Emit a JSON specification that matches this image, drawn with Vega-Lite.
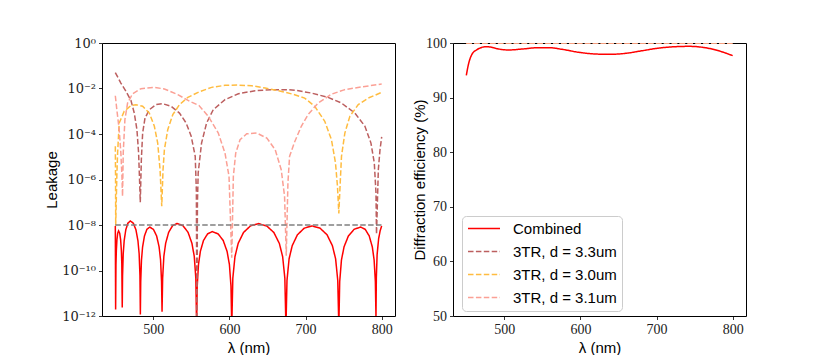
{
  "$schema": "https://vega.github.io/schema/vega-lite/v6.json",
  "padding": {"left": 44, "top": 35, "right": 5, "bottom": 2},
  "spacing": 58,
  "bounds": "flush",
  "datasets": {
    "leak": [
      {"wavelength": 450, "leakage": 9.12e-9, "series": "Combined"},
      {"wavelength": 450.4, "leakage": 1.95e-12, "series": "Combined"},
      {"wavelength": 450.87, "leakage": 1.95e-10, "series": "Combined"},
      {"wavelength": 451.34, "leakage": 7.41e-10, "series": "Combined"},
      {"wavelength": 452.12, "leakage": 2.24e-9, "series": "Combined"},
      {"wavelength": 453.13, "leakage": 4.37e-9, "series": "Combined"},
      {"wavelength": 454.3, "leakage": 5.5e-9, "series": "Combined"},
      {"wavelength": 455.74, "leakage": 4.37e-9, "series": "Combined"},
      {"wavelength": 456.99, "leakage": 2.24e-9, "series": "Combined"},
      {"wavelength": 457.95, "leakage": 7.41e-10, "series": "Combined"},
      {"wavelength": 458.52, "leakage": 1.95e-10, "series": "Combined"},
      {"wavelength": 459.1, "leakage": 2.34e-12, "series": "Combined"},
      {"wavelength": 459.52, "leakage": 6.03e-11, "series": "Combined"},
      {"wavelength": 460.37, "leakage": 5.37e-10, "series": "Combined"},
      {"wavelength": 461.64, "leakage": 2.04e-9, "series": "Combined"},
      {"wavelength": 463.76, "leakage": 6.17e-9, "series": "Combined"},
      {"wavelength": 466.52, "leakage": 1.2e-8, "series": "Combined"},
      {"wavelength": 469.7, "leakage": 1.51e-8, "series": "Combined"},
      {"wavelength": 473.66, "leakage": 1.2e-8, "series": "Combined"},
      {"wavelength": 477.09, "leakage": 6.17e-9, "series": "Combined"},
      {"wavelength": 479.73, "leakage": 2.04e-9, "series": "Combined"},
      {"wavelength": 481.32, "leakage": 5.37e-10, "series": "Combined"},
      {"wavelength": 482.37, "leakage": 6.03e-11, "series": "Combined"},
      {"wavelength": 482.9, "leakage": 1.17e-12, "series": "Combined"},
      {"wavelength": 483.39, "leakage": 3.24e-11, "series": "Combined"},
      {"wavelength": 484.38, "leakage": 2.88e-10, "series": "Combined"},
      {"wavelength": 485.85, "leakage": 1.1e-9, "series": "Combined"},
      {"wavelength": 488.31, "leakage": 3.31e-9, "series": "Combined"},
      {"wavelength": 491.51, "leakage": 6.46e-9, "series": "Combined"},
      {"wavelength": 495.2, "leakage": 8.13e-9, "series": "Combined"},
      {"wavelength": 500.06, "leakage": 6.46e-9, "series": "Combined"},
      {"wavelength": 504.27, "leakage": 3.31e-9, "series": "Combined"},
      {"wavelength": 507.51, "leakage": 1.1e-9, "series": "Combined"},
      {"wavelength": 509.46, "leakage": 2.88e-10, "series": "Combined"},
      {"wavelength": 510.75, "leakage": 3.24e-11, "series": "Combined"},
      {"wavelength": 511.4, "leakage": 1.55e-12, "series": "Combined"},
      {"wavelength": 512.19, "leakage": 4.68e-11, "series": "Combined"},
      {"wavelength": 513.78, "leakage": 4.17e-10, "series": "Combined"},
      {"wavelength": 516.15, "leakage": 1.58e-9, "series": "Combined"},
      {"wavelength": 520.11, "leakage": 4.79e-9, "series": "Combined"},
      {"wavelength": 525.26, "leakage": 9.33e-9, "series": "Combined"},
      {"wavelength": 531.2, "leakage": 1.17e-8, "series": "Combined"},
      {"wavelength": 538.88, "leakage": 9.33e-9, "series": "Combined"},
      {"wavelength": 545.54, "leakage": 4.79e-9, "series": "Combined"},
      {"wavelength": 550.66, "leakage": 1.58e-9, "series": "Combined"},
      {"wavelength": 553.73, "leakage": 4.17e-10, "series": "Combined"},
      {"wavelength": 555.78, "leakage": 4.68e-11, "series": "Combined"},
      {"wavelength": 556.8, "leakage": 3.16e-13, "series": "Combined"},
      {"wavelength": 557.62, "leakage": 2.04e-11, "series": "Combined"},
      {"wavelength": 559.27, "leakage": 1.82e-10, "series": "Combined"},
      {"wavelength": 561.74, "leakage": 6.92e-10, "series": "Combined"},
      {"wavelength": 565.86, "leakage": 2.09e-9, "series": "Combined"},
      {"wavelength": 571.22, "leakage": 4.07e-9, "series": "Combined"},
      {"wavelength": 577.4, "leakage": 5.13e-9, "series": "Combined"},
      {"wavelength": 585.08, "leakage": 4.07e-9, "series": "Combined"},
      {"wavelength": 591.74, "leakage": 2.09e-9, "series": "Combined"},
      {"wavelength": 596.86, "leakage": 6.92e-10, "series": "Combined"},
      {"wavelength": 599.93, "leakage": 1.82e-10, "series": "Combined"},
      {"wavelength": 601.98, "leakage": 2.04e-11, "series": "Combined"},
      {"wavelength": 603.0, "leakage": 3.16e-13, "series": "Combined"},
      {"wavelength": 604.4, "leakage": 4.57e-11, "series": "Combined"},
      {"wavelength": 607.21, "leakage": 4.07e-10, "series": "Combined"},
      {"wavelength": 611.42, "leakage": 1.55e-9, "series": "Combined"},
      {"wavelength": 618.44, "leakage": 4.68e-9, "series": "Combined"},
      {"wavelength": 627.57, "leakage": 9.12e-9, "series": "Combined"},
      {"wavelength": 638.1, "leakage": 1.15e-8, "series": "Combined"},
      {"wavelength": 648.93, "leakage": 9.12e-9, "series": "Combined"},
      {"wavelength": 658.32, "leakage": 4.68e-9, "series": "Combined"},
      {"wavelength": 665.54, "leakage": 1.55e-9, "series": "Combined"},
      {"wavelength": 669.87, "leakage": 4.07e-10, "series": "Combined"},
      {"wavelength": 672.76, "leakage": 4.57e-11, "series": "Combined"},
      {"wavelength": 674.2, "leakage": 3.16e-13, "series": "Combined"},
      {"wavelength": 675.57, "leakage": 3.63e-11, "series": "Combined"},
      {"wavelength": 678.32, "leakage": 3.24e-10, "series": "Combined"},
      {"wavelength": 682.43, "leakage": 1.23e-9, "series": "Combined"},
      {"wavelength": 689.29, "leakage": 3.72e-9, "series": "Combined"},
      {"wavelength": 698.21, "leakage": 7.24e-9, "series": "Combined"},
      {"wavelength": 708.5, "leakage": 9.12e-9, "series": "Combined"},
      {"wavelength": 719.06, "leakage": 7.24e-9, "series": "Combined"},
      {"wavelength": 728.21, "leakage": 3.72e-9, "series": "Combined"},
      {"wavelength": 735.25, "leakage": 1.23e-9, "series": "Combined"},
      {"wavelength": 739.48, "leakage": 3.24e-10, "series": "Combined"},
      {"wavelength": 742.29, "leakage": 3.63e-11, "series": "Combined"},
      {"wavelength": 743.7, "leakage": 3.16e-13, "series": "Combined"},
      {"wavelength": 744.84, "leakage": 3.24e-11, "series": "Combined"},
      {"wavelength": 747.13, "leakage": 2.88e-10, "series": "Combined"},
      {"wavelength": 750.56, "leakage": 1.1e-9, "series": "Combined"},
      {"wavelength": 756.28, "leakage": 3.31e-9, "series": "Combined"},
      {"wavelength": 763.72, "leakage": 6.46e-9, "series": "Combined"},
      {"wavelength": 772.3, "leakage": 8.13e-9, "series": "Combined"},
      {"wavelength": 778.36, "leakage": 6.46e-9, "series": "Combined"},
      {"wavelength": 783.61, "leakage": 3.31e-9, "series": "Combined"},
      {"wavelength": 787.65, "leakage": 1.1e-9, "series": "Combined"},
      {"wavelength": 790.08, "leakage": 2.88e-10, "series": "Combined"},
      {"wavelength": 791.69, "leakage": 3.24e-11, "series": "Combined"},
      {"wavelength": 792.5, "leakage": 8.51e-13, "series": "Combined"},
      {"wavelength": 793.0, "leakage": 5.01e-11, "series": "Combined"},
      {"wavelength": 794.0, "leakage": 5.01e-10, "series": "Combined"},
      {"wavelength": 796.0, "leakage": 2.51e-9, "series": "Combined"},
      {"wavelength": 798.0, "leakage": 5.62e-9, "series": "Combined"},
      {"wavelength": 800.0, "leakage": 9.12e-9, "series": "Combined"},

      {"wavelength": 450, "leakage": 5.01e-2, "series": "3TR, d = 3.3um"},
      {"wavelength": 457.3, "leakage": 1.74e-2, "series": "3TR, d = 3.3um"},
      {"wavelength": 463.9, "leakage": 7.59e-3, "series": "3TR, d = 3.3um"},
      {"wavelength": 470.5, "leakage": 3.02e-3, "series": "3TR, d = 3.3um"},
      {"wavelength": 474.9, "leakage": 8.32e-4, "series": "3TR, d = 3.3um"},
      {"wavelength": 478.4, "leakage": 1.55e-4, "series": "3TR, d = 3.3um"},
      {"wavelength": 480.6, "leakage": 1.45e-5, "series": "3TR, d = 3.3um"},
      {"wavelength": 482.0, "leakage": 7.08e-7, "series": "3TR, d = 3.3um"},
      {"wavelength": 482.8, "leakage": 1.0e-7, "series": "3TR, d = 3.3um"},
      {"wavelength": 484.2, "leakage": 7.41e-6, "series": "3TR, d = 3.3um"},
      {"wavelength": 485.9, "leakage": 1.1e-4, "series": "3TR, d = 3.3um"},
      {"wavelength": 489.0, "leakage": 5.01e-4, "series": "3TR, d = 3.3um"},
      {"wavelength": 494.7, "leakage": 1.17e-3, "series": "3TR, d = 3.3um"},
      {"wavelength": 503.5, "leakage": 1.95e-3, "series": "3TR, d = 3.3um"},
      {"wavelength": 512.3, "leakage": 2.14e-3, "series": "3TR, d = 3.3um"},
      {"wavelength": 523.3, "leakage": 1.66e-3, "series": "3TR, d = 3.3um"},
      {"wavelength": 534.3, "leakage": 8.32e-4, "series": "3TR, d = 3.3um"},
      {"wavelength": 543.1, "leakage": 3.02e-4, "series": "3TR, d = 3.3um"},
      {"wavelength": 549.7, "leakage": 7.94e-5, "series": "3TR, d = 3.3um"},
      {"wavelength": 555.0, "leakage": 1.05e-5, "series": "3TR, d = 3.3um"},
      {"wavelength": 556.5, "leakage": 3.16e-7, "series": "3TR, d = 3.3um"},
      {"wavelength": 557.2, "leakage": 3.16e-13, "series": "3TR, d = 3.3um"},
      {"wavelength": 557.9, "leakage": 1.0e-7, "series": "3TR, d = 3.3um"},
      {"wavelength": 558.9, "leakage": 1.95e-6, "series": "3TR, d = 3.3um"},
      {"wavelength": 563.3, "leakage": 3.98e-5, "series": "3TR, d = 3.3um"},
      {"wavelength": 569.9, "leakage": 3.02e-4, "series": "3TR, d = 3.3um"},
      {"wavelength": 578.7, "leakage": 1.17e-3, "series": "3TR, d = 3.3um"},
      {"wavelength": 594.1, "leakage": 3.24e-3, "series": "3TR, d = 3.3um"},
      {"wavelength": 611.7, "leakage": 5.89e-3, "series": "3TR, d = 3.3um"},
      {"wavelength": 633.7, "leakage": 7.94e-3, "series": "3TR, d = 3.3um"},
      {"wavelength": 655.7, "leakage": 8.91e-3, "series": "3TR, d = 3.3um"},
      {"wavelength": 677.7, "leakage": 8.91e-3, "series": "3TR, d = 3.3um"},
      {"wavelength": 690.9, "leakage": 7.94e-3, "series": "3TR, d = 3.3um"},
      {"wavelength": 707.6, "leakage": 6.31e-3, "series": "3TR, d = 3.3um"},
      {"wavelength": 729.6, "leakage": 4.07e-3, "series": "3TR, d = 3.3um"},
      {"wavelength": 747.2, "leakage": 2.29e-3, "series": "3TR, d = 3.3um"},
      {"wavelength": 764.8, "leakage": 8.32e-4, "series": "3TR, d = 3.3um"},
      {"wavelength": 778.0, "leakage": 2.19e-4, "series": "3TR, d = 3.3um"},
      {"wavelength": 785.9, "leakage": 3.98e-5, "series": "3TR, d = 3.3um"},
      {"wavelength": 790.3, "leakage": 5.37e-6, "series": "3TR, d = 3.3um"},
      {"wavelength": 792.5, "leakage": 2.57e-7, "series": "3TR, d = 3.3um"},
      {"wavelength": 793.2, "leakage": 3.98e-9, "series": "3TR, d = 3.3um"},
      {"wavelength": 795.6, "leakage": 2.69e-6, "series": "3TR, d = 3.3um"},
      {"wavelength": 797.8, "leakage": 2.04e-5, "series": "3TR, d = 3.3um"},
      {"wavelength": 800.0, "leakage": 7.41e-5, "series": "3TR, d = 3.3um"},

      {"wavelength": 450, "leakage": 2.88e-5, "series": "3TR, d = 3.0um"},
      {"wavelength": 450.3, "leakage": 1.38e-6, "series": "3TR, d = 3.0um"},
      {"wavelength": 450.5, "leakage": 9.33e-9, "series": "3TR, d = 3.0um"},
      {"wavelength": 452.0, "leakage": 1.38e-6, "series": "3TR, d = 3.0um"},
      {"wavelength": 453.0, "leakage": 1.45e-5, "series": "3TR, d = 3.0um"},
      {"wavelength": 455.1, "leakage": 3.02e-4, "series": "3TR, d = 3.0um"},
      {"wavelength": 461.7, "leakage": 1.0e-3, "series": "3TR, d = 3.0um"},
      {"wavelength": 470.5, "leakage": 1.78e-3, "series": "3TR, d = 3.0um"},
      {"wavelength": 477.1, "leakage": 1.95e-3, "series": "3TR, d = 3.0um"},
      {"wavelength": 485.9, "leakage": 1.66e-3, "series": "3TR, d = 3.0um"},
      {"wavelength": 494.7, "leakage": 8.32e-4, "series": "3TR, d = 3.0um"},
      {"wavelength": 501.3, "leakage": 2.19e-4, "series": "3TR, d = 3.0um"},
      {"wavelength": 505.7, "leakage": 3.98e-5, "series": "3TR, d = 3.0um"},
      {"wavelength": 508.8, "leakage": 2.69e-6, "series": "3TR, d = 3.0um"},
      {"wavelength": 511.0, "leakage": 6.61e-8, "series": "3TR, d = 3.0um"},
      {"wavelength": 512.7, "leakage": 2.69e-6, "series": "3TR, d = 3.0um"},
      {"wavelength": 514.5, "leakage": 2.04e-5, "series": "3TR, d = 3.0um"},
      {"wavelength": 518.9, "leakage": 1.55e-4, "series": "3TR, d = 3.0um"},
      {"wavelength": 525.5, "leakage": 7.08e-4, "series": "3TR, d = 3.0um"},
      {"wavelength": 534.3, "leakage": 1.95e-3, "series": "3TR, d = 3.0um"},
      {"wavelength": 545.3, "leakage": 4.07e-3, "series": "3TR, d = 3.0um"},
      {"wavelength": 560.0, "leakage": 7.08e-3, "series": "3TR, d = 3.0um"},
      {"wavelength": 576.5, "leakage": 1.12e-2, "series": "3TR, d = 3.0um"},
      {"wavelength": 594.1, "leakage": 1.38e-2, "series": "3TR, d = 3.0um"},
      {"wavelength": 611.7, "leakage": 1.41e-2, "series": "3TR, d = 3.0um"},
      {"wavelength": 629.3, "leakage": 1.32e-2, "series": "3TR, d = 3.0um"},
      {"wavelength": 646.9, "leakage": 1.05e-2, "series": "3TR, d = 3.0um"},
      {"wavelength": 664.5, "leakage": 7.94e-3, "series": "3TR, d = 3.0um"},
      {"wavelength": 682.1, "leakage": 5.75e-3, "series": "3TR, d = 3.0um"},
      {"wavelength": 698.8, "leakage": 3.8e-3, "series": "3TR, d = 3.0um"},
      {"wavelength": 712.0, "leakage": 1.66e-3, "series": "3TR, d = 3.0um"},
      {"wavelength": 725.2, "leakage": 3.63e-4, "series": "3TR, d = 3.0um"},
      {"wavelength": 734.0, "leakage": 5.62e-5, "series": "3TR, d = 3.0um"},
      {"wavelength": 739.3, "leakage": 5.37e-6, "series": "3TR, d = 3.0um"},
      {"wavelength": 741.9, "leakage": 5.01e-7, "series": "3TR, d = 3.0um"},
      {"wavelength": 743.7, "leakage": 3.24e-8, "series": "3TR, d = 3.0um"},
      {"wavelength": 745.5, "leakage": 7.08e-7, "series": "3TR, d = 3.0um"},
      {"wavelength": 747.2, "leakage": 1.05e-5, "series": "3TR, d = 3.0um"},
      {"wavelength": 751.6, "leakage": 1.1e-4, "series": "3TR, d = 3.0um"},
      {"wavelength": 758.2, "leakage": 6.03e-4, "series": "3TR, d = 3.0um"},
      {"wavelength": 769.2, "leakage": 1.95e-3, "series": "3TR, d = 3.0um"},
      {"wavelength": 782.4, "leakage": 3.8e-3, "series": "3TR, d = 3.0um"},
      {"wavelength": 800.0, "leakage": 6.76e-3, "series": "3TR, d = 3.0um"},

      {"wavelength": 450, "leakage": 4.79e-3, "series": "3TR, d = 3.1um"},
      {"wavelength": 452.0, "leakage": 1.17e-3, "series": "3TR, d = 3.1um"},
      {"wavelength": 455.1, "leakage": 1.55e-4, "series": "3TR, d = 3.1um"},
      {"wavelength": 457.3, "leakage": 1.45e-5, "series": "3TR, d = 3.1um"},
      {"wavelength": 458.7, "leakage": 1.38e-6, "series": "3TR, d = 3.1um"},
      {"wavelength": 459.5, "leakage": 1.82e-7, "series": "3TR, d = 3.1um"},
      {"wavelength": 460.4, "leakage": 1.45e-5, "series": "3TR, d = 3.1um"},
      {"wavelength": 462.6, "leakage": 4.27e-4, "series": "3TR, d = 3.1um"},
      {"wavelength": 466.1, "leakage": 2.29e-3, "series": "3TR, d = 3.1um"},
      {"wavelength": 472.7, "leakage": 5.89e-3, "series": "3TR, d = 3.1um"},
      {"wavelength": 483.7, "leakage": 9.77e-3, "series": "3TR, d = 3.1um"},
      {"wavelength": 501.3, "leakage": 1.12e-2, "series": "3TR, d = 3.1um"},
      {"wavelength": 514.5, "leakage": 9.55e-3, "series": "3TR, d = 3.1um"},
      {"wavelength": 532.1, "leakage": 5.37e-3, "series": "3TR, d = 3.1um"},
      {"wavelength": 547.5, "leakage": 2.75e-3, "series": "3TR, d = 3.1um"},
      {"wavelength": 560.0, "leakage": 1.78e-3, "series": "3TR, d = 3.1um"},
      {"wavelength": 572.1, "leakage": 6.03e-4, "series": "3TR, d = 3.1um"},
      {"wavelength": 585.3, "leakage": 1.1e-4, "series": "3TR, d = 3.1um"},
      {"wavelength": 594.1, "leakage": 1.45e-5, "series": "3TR, d = 3.1um"},
      {"wavelength": 599.4, "leakage": 1.38e-6, "series": "3TR, d = 3.1um"},
      {"wavelength": 603.0, "leakage": 3.63e-10, "series": "3TR, d = 3.1um"},
      {"wavelength": 605.1, "leakage": 1.38e-6, "series": "3TR, d = 3.1um"},
      {"wavelength": 608.2, "leakage": 1.45e-5, "series": "3TR, d = 3.1um"},
      {"wavelength": 613.9, "leakage": 5.62e-5, "series": "3TR, d = 3.1um"},
      {"wavelength": 622.7, "leakage": 1.02e-4, "series": "3TR, d = 3.1um"},
      {"wavelength": 635.9, "leakage": 1.1e-4, "series": "3TR, d = 3.1um"},
      {"wavelength": 649.1, "leakage": 6.61e-5, "series": "3TR, d = 3.1um"},
      {"wavelength": 660.1, "leakage": 2.04e-5, "series": "3TR, d = 3.1um"},
      {"wavelength": 668.0, "leakage": 2.69e-6, "series": "3TR, d = 3.1um"},
      {"wavelength": 672.4, "leakage": 1.82e-7, "series": "3TR, d = 3.1um"},
      {"wavelength": 674.6, "leakage": 4.47e-10, "series": "3TR, d = 3.1um"},
      {"wavelength": 676.8, "leakage": 7.08e-7, "series": "3TR, d = 3.1um"},
      {"wavelength": 679.0, "leakage": 1.05e-5, "series": "3TR, d = 3.1um"},
      {"wavelength": 685.6, "leakage": 4.47e-5, "series": "3TR, d = 3.1um"},
      {"wavelength": 694.4, "leakage": 2.19e-4, "series": "3TR, d = 3.1um"},
      {"wavelength": 703.2, "leakage": 7.08e-4, "series": "3TR, d = 3.1um"},
      {"wavelength": 716.4, "leakage": 2.29e-3, "series": "3TR, d = 3.1um"},
      {"wavelength": 734.0, "leakage": 5.62e-3, "series": "3TR, d = 3.1um"},
      {"wavelength": 751.6, "leakage": 8.91e-3, "series": "3TR, d = 3.1um"},
      {"wavelength": 773.6, "leakage": 1.17e-2, "series": "3TR, d = 3.1um"},
      {"wavelength": 800.0, "leakage": 1.58e-2, "series": "3TR, d = 3.1um"}
    ],
    "threshold": [
      {"wavelength": 450, "leakage": 1e-8},
      {"wavelength": 800, "leakage": 1e-8}
    ],
    "eff": [
      {"wavelength": 450, "efficiency": 94.07, "series": "Combined"},
      {"wavelength": 453, "efficiency": 96.21, "series": "Combined"},
      {"wavelength": 457.4, "efficiency": 97.92, "series": "Combined"},
      {"wavelength": 464, "efficiency": 98.78, "series": "Combined"},
      {"wavelength": 470.6, "efficiency": 99.21, "series": "Combined"},
      {"wavelength": 475.8, "efficiency": 99.33, "series": "Combined"},
      {"wavelength": 481.6, "efficiency": 99.27, "series": "Combined"},
      {"wavelength": 492.5, "efficiency": 98.9, "series": "Combined"},
      {"wavelength": 505.7, "efficiency": 98.72, "series": "Combined"},
      {"wavelength": 523.3, "efficiency": 98.9, "series": "Combined"},
      {"wavelength": 545.2, "efficiency": 99.14, "series": "Combined"},
      {"wavelength": 558.4, "efficiency": 99.14, "series": "Combined"},
      {"wavelength": 576, "efficiency": 98.84, "series": "Combined"},
      {"wavelength": 598, "efficiency": 98.29, "series": "Combined"},
      {"wavelength": 620, "efficiency": 97.98, "series": "Combined"},
      {"wavelength": 637.5, "efficiency": 97.92, "series": "Combined"},
      {"wavelength": 659.4, "efficiency": 98.11, "series": "Combined"},
      {"wavelength": 681.4, "efficiency": 98.59, "series": "Combined"},
      {"wavelength": 703.4, "efficiency": 99.08, "series": "Combined"},
      {"wavelength": 725.3, "efficiency": 99.33, "series": "Combined"},
      {"wavelength": 742.9, "efficiency": 99.39, "series": "Combined"},
      {"wavelength": 760.5, "efficiency": 99.21, "series": "Combined"},
      {"wavelength": 778, "efficiency": 98.72, "series": "Combined"},
      {"wavelength": 800, "efficiency": 97.68, "series": "Combined"},
      {"wavelength": 450, "efficiency": 100, "series": "3TR, d = 3.3um"},
      {"wavelength": 625, "efficiency": 100, "series": "3TR, d = 3.3um"},
      {"wavelength": 800, "efficiency": 100, "series": "3TR, d = 3.3um"},
      {"wavelength": 450, "efficiency": 100, "series": "3TR, d = 3.0um"},
      {"wavelength": 625, "efficiency": 100, "series": "3TR, d = 3.0um"},
      {"wavelength": 800, "efficiency": 100, "series": "3TR, d = 3.0um"},
      {"wavelength": 450, "efficiency": 100, "series": "3TR, d = 3.1um"},
      {"wavelength": 625, "efficiency": 100, "series": "3TR, d = 3.1um"},
      {"wavelength": 800, "efficiency": 100, "series": "3TR, d = 3.1um"}
    ]
  },
  "hconcat": [
    {
      "width": 293,
      "height": 273,
      "layer": [
        {
          "data": {"name": "leak"},
          "mark": {"type": "line", "clip": true, "strokeWidth": 1.5},
          "encoding": {
            "x": {"field": "wavelength", "type": "quantitative", "scale": {"domain": [432.5, 817.5], "nice": false, "zero": false}, "axis": {"values": [500, 600, 700, 800], "title": "λ (nm)"}},
            "y": {"field": "leakage", "type": "quantitative", "scale": {"type": "log", "domain": [1e-12, 1], "nice": false}, "axis": {"values": [1e-12, 1e-10, 1e-8, 1e-6, 1e-4, 1e-2, 1], "title": "Leakage", "titlePadding": 2, "labelFont": "DejaVu Serif", "labelFontSize": 13, "labelExpr": "datum.value >= 0.5 ? '10⁰' : datum.value >= 0.005 ? '10⁻²' : datum.value >= 5e-5 ? '10⁻⁴' : datum.value >= 5e-7 ? '10⁻⁶' : datum.value >= 5e-9 ? '10⁻⁸' : datum.value >= 5e-11 ? '10⁻¹⁰' : '10⁻¹²'"}},
            "color": {"field": "series", "type": "nominal", "scale": {"domain": ["Combined", "3TR, d = 3.3um", "3TR, d = 3.0um", "3TR, d = 3.1um"], "range": ["#ff0000", "#bc5f5f", "#ffbc40", "#fba095"]}, "legend": null},
            "strokeDash": {"field": "series", "type": "nominal", "scale": {"domain": ["Combined", "3TR, d = 3.3um", "3TR, d = 3.0um", "3TR, d = 3.1um"], "range": [[1, 0], [5.5, 2.4], [5.5, 2.4], [5.5, 2.4]]}, "legend": null}
          }
        },
        {
          "data": {"name": "threshold"},
          "mark": {"type": "line", "color": "#808080", "strokeDash": [5.5, 2.4], "strokeWidth": 1.5},
          "encoding": {
            "x": {"field": "wavelength", "type": "quantitative"},
            "y": {"field": "leakage", "type": "quantitative"}
          }
        }
      ]
    },
    {
      "width": 293,
      "height": 273,
      "data": {"name": "eff"},
      "mark": {"type": "line", "clip": true, "strokeWidth": 1.5, "interpolate": "monotone"},
      "encoding": {
        "x": {"field": "wavelength", "type": "quantitative", "scale": {"domain": [432.5, 817.5], "nice": false, "zero": false}, "axis": {"values": [500, 600, 700, 800], "title": "λ (nm)"}},
        "y": {"field": "efficiency", "type": "quantitative", "scale": {"domain": [50, 100], "nice": false, "zero": false}, "axis": {"values": [50, 60, 70, 80, 90, 100], "title": "Diffraction efficiency (%)", "titlePadding": -2}},
        "color": {"field": "series", "type": "nominal", "scale": {"domain": ["Combined", "3TR, d = 3.3um", "3TR, d = 3.0um", "3TR, d = 3.1um"], "range": ["#ff0000", "#bc5f5f", "#ffbc40", "#fba095"]}, "legend": {"title": null, "orient": "none", "legendX": 9, "legendY": 173}},
        "strokeDash": {"field": "series", "type": "nominal", "scale": {"domain": ["Combined", "3TR, d = 3.3um", "3TR, d = 3.0um", "3TR, d = 3.1um"], "range": [[1, 0], [5.5, 2.4], [5.5, 2.4], [5.5, 2.4]]}, "legend": {"title": null, "orient": "none", "legendX": 9, "legendY": 173}}
      }
    }
  ],
  "resolve": {"scale": {"color": "independent", "strokeDash": "independent"}},
  "config": {
    "view": {"stroke": "#000", "strokeWidth": 1},
    "axis": {"domain": false, "grid": false, "tickColor": "#000", "tickSize": 3.5, "tickWidth": 0.8, "labelFont": "Liberation Serif", "labelFontSize": 14, "labelColor": "#222", "labelPadding": 3, "titleFont": "Liberation Sans", "titleFontSize": 15, "titleFontWeight": "normal", "titleColor": "#000"},
    "axisY": {"titlePadding": 5},
    "axisX": {"titlePadding": 4},
    "legend": {"labelFont": "Liberation Sans", "labelFontSize": 15, "labelColor": "#000", "symbolSize": 1024, "symbolStrokeWidth": 1.5, "symbolType": "stroke", "clipHeight": 15, "strokeColor": "#cccccc", "fillColor": "rgba(255,255,255,0.8)", "cornerRadius": 4, "padding": 5, "rowPadding": 7, "labelOffset": 12}
  }
}
